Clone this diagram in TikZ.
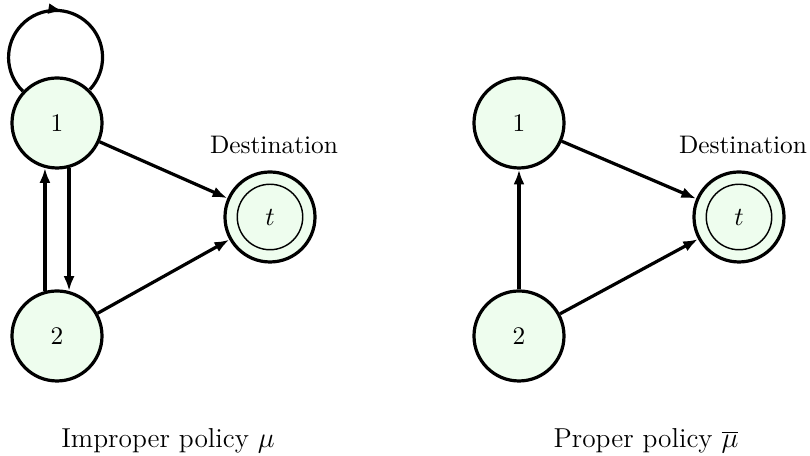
\documentclass[tikz,border=0pt]{standalone}
\usetikzlibrary{arrows.meta,decorations.markings}
\definecolor{nodefill}{RGB}{238,253,238}
\begin{document}
\begin{tikzpicture}[x=0.42pt,y=0.42pt,
  every node/.style={font=\fontsize{10.65}{13}\selectfont},
  state/.style={circle,draw,line width=1.35pt,fill=nodefill,minimum size=37.8pt,inner sep=0pt},
  arr/.style={line width=1.35pt,-{Latex[length=6.2pt,width=4.6pt]}},
  loopmark/.style={line width=1.35pt,decoration={markings,mark=at position 0.54 with {\arrow{Latex[length=6.2pt,width=4.6pt]}}},postaction={decorate}},
  caption/.style={font=\fontsize{11.5}{14}\selectfont}]
\useasboundingbox (0,0) rectangle (810,456);
% left
\node[state] (n1) at (57,333) {1};
\node[state] (n2) at (57,120) {2};
\node[state] (t) at (270,239) {};
\node[circle,draw,line width=0.6pt,minimum size=27.5pt,inner sep=0pt] (ti) at (t.center) {$t$};
\node (dl) at (274,311) {Destination};
\node[caption] (cl) at (168,15) {Improper policy $\mu$};
\draw[loopmark] (n1.137) arc[start angle=226,end angle=-43,radius=47];
\draw[arr] (n2.105) -- (n1.255);
\draw[arr] (n1.285) -- (n2.75);
\draw[arr] (n1) -- (t);
\draw[arr] (n2) -- (t);
% right
\node[state] (m1) at (519,333) {1};
\node[state] (m2) at (519,120) {2};
\node[state] (u) at (739,239) {};
\node[circle,draw,line width=0.6pt,minimum size=27.5pt,inner sep=0pt] (ui) at (u.center) {$t$};
\node (dr) at (743,311) {Destination};
\node[caption] (cr) at (646,15) {Proper policy $\overline{\mu}$};
\draw[arr] (m2) -- (m1);
\draw[arr] (m1) -- (u);
\draw[arr] (m2) -- (u);
\end{tikzpicture}
\end{document}
